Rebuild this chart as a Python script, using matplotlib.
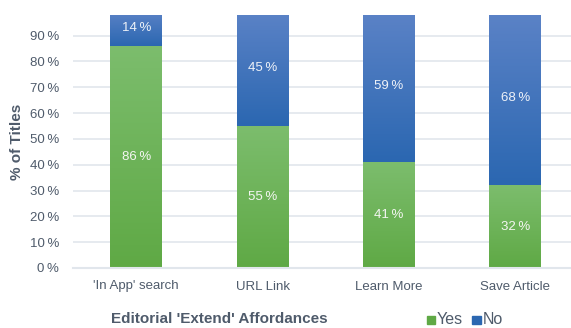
import matplotlib

matplotlib.use("Agg")
import matplotlib.pyplot as plt  # noqa: E402
import numpy as np  # noqa: E402
from matplotlib.colors import LinearSegmentedColormap  # noqa: E402
from matplotlib.patches import Rectangle  # noqa: E402

plt.rcParams["font.family"] = ["Liberation Sans", "DejaVu Sans"]

categories = ["'In App' search", "URL Link", "Learn More", "Save Article"]
yes_pct = [86, 55, 41, 32]
no_pct = [14, 45, 59, 68]
y_ticks = [0, 10, 20, 30, 40, 50, 60, 70, 80, 90]

TEXT = "#4f5b6b"
GRID = "#e1e6ec"
GREEN = ("#7cbd6d", "#5fa945")
BLUE = ("#5c83c7", "#2b67b1")
Y_TOP = 98


def gradient_bars(ax, bars, colors):
    """Replace each bar's flat fill with a top-to-bottom gradient."""
    cmap = LinearSegmentedColormap.from_list("g", [colors[1], colors[0]])
    grad = np.linspace(0, 1, 256).reshape(-1, 1)
    for rect in bars:
        x, y = rect.get_x(), rect.get_y()
        w, h = rect.get_width(), rect.get_height()
        rect.set_facecolor("none")
        img = ax.imshow(grad, cmap=cmap, origin="lower", aspect="auto",
                        extent=(x, x + w, y, y + h), zorder=2)
        # keep the fill inside the plot area as the axes clip would
        top = min(y + h, Y_TOP)
        img.set_clip_path(Rectangle((x, y), w, top - y, transform=ax.transData))


fig = plt.figure(figsize=(5.71, 3.28), dpi=100)
ax = fig.add_axes([73 / 571, 60 / 328, 498 / 571, 253 / 328])

x = np.arange(len(categories))
width = 0.41
yes_bars = ax.bar(x, yes_pct, width, linewidth=0, zorder=2)
no_bars = ax.bar(x, no_pct, width, bottom=yes_pct, linewidth=0, zorder=2)
gradient_bars(ax, yes_bars, GREEN)
gradient_bars(ax, no_bars, BLUE)

for i in x:
    ax.text(i, yes_pct[i] / 2, f"{yes_pct[i]}\u2009%", ha="center", va="center",
            color="#f4f6f2", fontsize=9.5, zorder=3)
    ax.text(i, yes_pct[i] + no_pct[i] / 2, f"{no_pct[i]}\u2009%", ha="center",
            va="center", color="#eef2f8", fontsize=9.5, zorder=3)

ax.set_xlim(-0.5, 3.44)
ax.set_ylim(0, Y_TOP)
ax.set_yticks(y_ticks)
ax.set_yticklabels([f"{t}\u2009%" for t in y_ticks])
ax.set_xticks(x)
ax.set_xticklabels(categories)
ax.tick_params(length=0, colors=TEXT, labelsize=9.5)
ax.tick_params(axis="y", pad=10)
ax.tick_params(axis="x", pad=9)
ax.grid(axis="y", color=GRID, linewidth=1.2, zorder=0)
ax.set_axisbelow(True)
for side in ["top", "right", "left"]:
    ax.spines[side].set_visible(False)
ax.spines["bottom"].set_color(GRID)
ax.spines["bottom"].set_linewidth(1.5)

ax.set_ylabel("% of Titles", fontsize=11, fontweight="bold", color=TEXT, labelpad=4)
fig.text(219 / 571, 1 - 319 / 328, "Editorial 'Extend' Affordances", ha="center",
         va="center", fontsize=11, fontweight="bold", color=TEXT)

# legend drawn as a simple row of squares and labels
fig.patches.append(Rectangle((427 / 571, 1 - 324 / 328), 8 / 571, 8 / 328,
                             transform=fig.transFigure, color=GREEN[1]))
fig.text(437 / 571, 1 - 320 / 328, "Yes", va="center", fontsize=11.5, color=TEXT)
fig.patches.append(Rectangle((472 / 571, 1 - 324 / 328), 9 / 571, 8 / 328,
                             transform=fig.transFigure, color=BLUE[1]))
fig.text(483 / 571, 1 - 320 / 328, "No", va="center", fontsize=11.5, color=TEXT)

fig.savefig("out.png", dpi=100)
plt.close(fig)
